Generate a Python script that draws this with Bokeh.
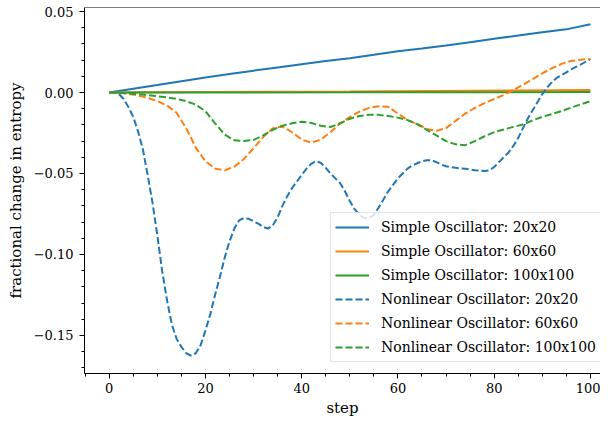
from bokeh.plotting import figure
from bokeh.models import Range1d, FixedTicker, Legend, LegendItem, Span
from bokeh.embed import file_html
from bokeh.resources import INLINE

# ---------------- data ----------------
simple_steps = [0, 5, 10, 15, 20, 25, 30, 35, 40, 45, 50, 55, 60, 65, 70, 75, 80, 85, 90, 95, 100]
simple_20 = [0.0, 0.0023, 0.0046, 0.0070, 0.0093, 0.0115, 0.0135, 0.0155, 0.0175, 0.0194, 0.0212,
             0.0233, 0.0255, 0.0272, 0.0290, 0.0311, 0.0332, 0.0352, 0.0372, 0.0390, 0.0421]
simple_60_steps = [0, 50, 100]
simple_60 = [0.0, 0.0007, 0.0015]
simple_100_steps = [0, 50, 100]
simple_100 = [0.0, 0.0001, 0.0003]

nl20_steps = list(range(0, 101))
nl_20 = [0.0, -0.0001, -0.0008, -0.004, -0.009, -0.015, -0.024, -0.035, -0.051, -0.068,
         -0.088, -0.110, -0.128, -0.143, -0.152, -0.157, -0.161, -0.1625, -0.161, -0.156,
         -0.147, -0.137, -0.125, -0.114, -0.102, -0.092, -0.084, -0.079, -0.0775, -0.078,
         -0.0795, -0.081, -0.083, -0.084, -0.082, -0.077, -0.070, -0.064, -0.059, -0.055,
         -0.051, -0.047, -0.044, -0.0423, -0.0435, -0.0465, -0.050, -0.053, -0.056, -0.061,
         -0.067, -0.072, -0.0755, -0.0775, -0.0775, -0.0755, -0.071, -0.066, -0.061, -0.057,
         -0.053, -0.050, -0.047, -0.045, -0.0437, -0.0425, -0.0418, -0.0418, -0.043, -0.0445,
         -0.0455, -0.046, -0.0465, -0.0468, -0.047, -0.0475, -0.048, -0.0482, -0.0485, -0.048,
         -0.046, -0.043, -0.040, -0.037, -0.033, -0.028, -0.022, -0.016, -0.011, -0.006,
         -0.001, 0.003, 0.0065, 0.009, 0.0108, 0.0125, 0.0143, 0.0158, 0.0173, 0.019, 0.0207]

nl_steps = list(range(0, 101, 2))
nl_60 = [0.0, -0.0003, -0.0008, -0.0018, -0.0033, -0.0053, -0.008, -0.0125, -0.022, -0.034,
         -0.0425, -0.047, -0.048, -0.0458, -0.041, -0.0345, -0.0275, -0.022, -0.021, -0.0245,
         -0.029, -0.031, -0.029, -0.0245, -0.019, -0.0152, -0.0118, -0.0095, -0.0085, -0.0088,
         -0.013, -0.017, -0.0195, -0.0225, -0.0237, -0.022, -0.0175, -0.013, -0.0095, -0.0065,
         -0.004, -0.0015, 0.0015, 0.0048, 0.0083, 0.0118, 0.015, 0.0177, 0.0195, 0.0203, 0.0207]
nl_100 = [0.0, -0.0002, -0.0005, -0.001, -0.0016, -0.0023, -0.003, -0.0039, -0.0053, -0.0075,
          -0.0115, -0.019, -0.026, -0.0295, -0.030, -0.0293, -0.0265, -0.023, -0.0205, -0.019,
          -0.018, -0.0188, -0.0205, -0.0213, -0.019, -0.0162, -0.0145, -0.0137, -0.0138, -0.0145,
          -0.0155, -0.017, -0.0195, -0.023, -0.0265, -0.030, -0.032, -0.0325, -0.030, -0.027,
          -0.0245, -0.0228, -0.0212, -0.0198, -0.0172, -0.015, -0.0133, -0.0115, -0.0093, -0.0073, -0.0053]

labels = ["Simple Oscillator: 20x20", "Simple Oscillator: 60x60", "Simple Oscillator: 100x100",
          "Nonlinear Oscillator: 20x20", "Nonlinear Oscillator: 60x60", "Nonlinear Oscillator: 100x100"]

x_ticks = [0, 20, 40, 60, 80, 100]
x_minor = [-5, 5, 10, 15, 25, 30, 35, 45, 50, 55, 65, 70, 75, 85, 90, 95, 105]
y_ticks = [-0.15, -0.10, -0.05, 0.0, 0.05]
y_tick_labels = ["\u22120.15", "\u22120.10", "\u22120.05", "0.00", "0.05"]
y_minor = [-0.17, -0.16, -0.14, -0.13, -0.12, -0.11, -0.09, -0.08, -0.07, -0.06,
           -0.04, -0.03, -0.02, -0.01, 0.01, 0.02, 0.03, 0.04]

colors = ["#1f77b4", "#ff7f0e", "#2ca02c"]
FONT = "DejaVu Serif"

# ---------------- figure ----------------
y_end = 0.0525
p = figure(width=600, height=419, output_backend="svg", toolbar_location=None,
           x_range=Range1d(-5.13, 102.1), y_range=Range1d(-0.1735, y_end),
           min_border_left=84, min_border_right=0, min_border_top=7, min_border_bottom=44)
p.outline_line_color = None
p.grid.visible = False
p.background_fill_color = "white"

r1 = p.line(simple_steps, simple_20, line_color=colors[0], line_width=2)
r2 = p.line(simple_60_steps, simple_60, line_color=colors[1], line_width=2)
r3 = p.line(simple_100_steps, simple_100, line_color=colors[2], line_width=2)
r4 = p.line(nl20_steps, nl_20, line_color=colors[0], line_width=2, line_dash="7 3")
r5 = p.line(nl_steps, nl_60, line_color=colors[1], line_width=2, line_dash="7 3")
r6 = p.line(nl_steps, nl_100, line_color=colors[2], line_width=2, line_dash="7 3")

p.add_layout(Span(location=y_end, dimension="width", line_color="black", line_width=1))

for ax in (p.xaxis[0], p.yaxis[0]):
    ax.axis_line_color = "black"
    ax.axis_line_width = 1
    ax.major_tick_in = 0
    ax.major_tick_out = 5
    ax.minor_tick_in = 0
    ax.minor_tick_out = 3
    ax.major_tick_line_color = "black"
    ax.minor_tick_line_color = "black"
    ax.major_label_text_font = FONT
    ax.major_label_text_font_size = "13px"
    ax.major_label_text_color = "black"
    ax.axis_label_text_font = FONT
    ax.axis_label_text_font_size = "15px"
    ax.axis_label_text_font_style = "normal"
    ax.axis_label_text_color = "black"

p.xaxis[0].ticker = FixedTicker(ticks=x_ticks, minor_ticks=x_minor)
p.yaxis[0].ticker = FixedTicker(ticks=y_ticks, minor_ticks=y_minor)
p.yaxis[0].major_label_overrides = {t: l for t, l in zip(y_ticks, y_tick_labels)}
p.xaxis[0].axis_label = "step"
p.yaxis[0].axis_label = "fractional change in entropy"
p.xaxis[0].major_label_standoff = 4
p.yaxis[0].major_label_standoff = 6
p.xaxis[0].axis_label_standoff = 3
p.yaxis[0].axis_label_standoff = 6

legend = Legend(items=[LegendItem(label=l, renderers=[r]) for l, r in zip(labels, [r1, r2, r3, r4, r5, r6])],
                location=(246, 11))
legend.label_text_font = FONT
legend.label_text_font_size = "14px"
legend.label_text_color = "black"
legend.glyph_width = 34
legend.glyph_height = 20
legend.label_height = 20
legend.label_standoff = 12
legend.spacing = 4
legend.padding = 4
legend.margin = 0
legend.border_line_color = "#cccccc"
legend.border_line_width = 1
legend.background_fill_color = "white"
legend.background_fill_alpha = 0.8
p.add_layout(legend)

open("out.html", "w").write(file_html(p, INLINE))
